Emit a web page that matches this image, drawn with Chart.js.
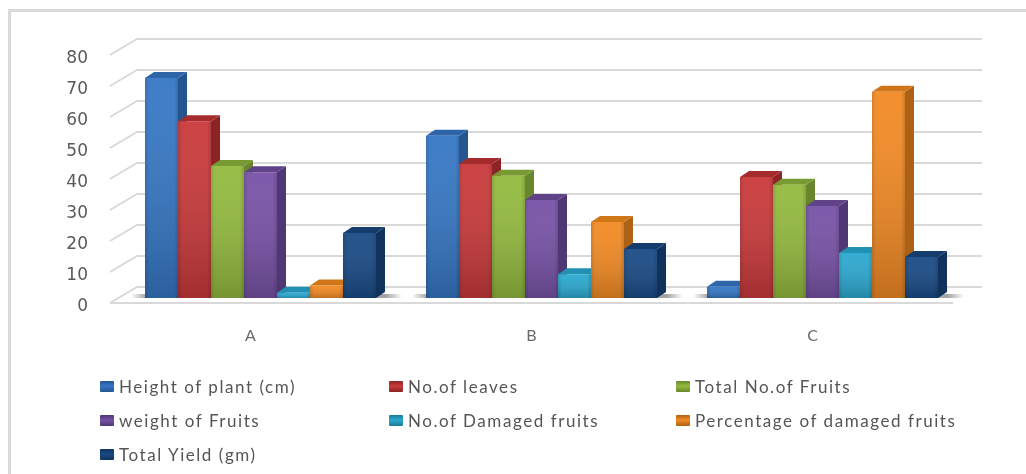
<!DOCTYPE html>
<html>
<head>
<meta charset="utf-8">
<title>Plant traits chart</title>
<script src="https://cdn.jsdelivr.net/npm/chart.js@4"></script>
<style>
  html, body { margin: 0; padding: 0; background: #fff; overflow: hidden; }
  #lienzo { position: relative; width: 1026px; height: 474px; overflow: hidden; }
  #marco { position: absolute; left: 8px; top: 9px; width: 1100px; height: 600px; border: 3px solid #dadada; box-sizing: border-box; }
  #lienzo canvas { position: absolute; left: 0; top: 0; }
  .ley { position: absolute; white-space: nowrap; font: 17px Lato, sans-serif; letter-spacing: 1.55px; color: #555; line-height: 20px; height: 20px; }
  .ley i { position: absolute; left: -19px; top: 4px; width: 14px; height: 11px; border-radius: 1px; }
</style>
</head>
<body>
<div id="lienzo">
  <div id="marco"></div>
  <canvas id="grafica" width="1026" height="474"></canvas>
  <div id="leyenda"></div>
</div>
<script>
var categorias = ['A', 'B', 'C'];
var nombres = [
  'Height of plant (cm)', 'No.of leaves', 'Total No.of Fruits', 'weight of Fruits',
  'No.of Damaged fruits', 'Percentage of damaged fruits', 'Total Yield (gm)'
];
var alturaPlanta = [71, 52.3, 3.6];
var hojas = [57, 43.2, 39];
var totalFrutos = [42.6, 39.4, 36.5];
var pesoFrutos = [40.6, 31.6, 29.7];
var frutosDanados = [1.7, 7.7, 14.5];
var pctDanados = [4, 24.5, 66.5];
var rendimiento = [21, 15.8, 13.2];
var series = [alturaPlanta, hojas, totalFrutos, pesoFrutos, frutosDanados, pctDanados, rendimiento];
var marcasY = [0, 10, 20, 30, 40, 50, 60, 70, 80];

var colores = ['#3577c4', '#c9393a', '#93ba3e', '#7752a6', '#2ba8cf', '#f28a24', '#194a85'];
var lados = ['#25558f', '#8c2426', '#68872c', '#4f3675', '#1d7a98', '#ad6115', '#10325c'];
var tapas = ['#2d65a8', '#a52c2d', '#789a33', '#5f4288', '#2290b2', '#cf7619', '#143c6d'];

// desplazamientos de la perspectiva falsa
var alzado = -4; // las etiquetas del eje van un poco más abajo que el piso
var fondoX = 27, fondoY = 16;
var barraX = 10, barraY = -5 + alzado;
var hondoX = 9, hondoY = 6;

function cuad(ctx, a, b, c, d, e, f, g, h, color) {
  ctx.fillStyle = color;
  ctx.beginPath();
  ctx.moveTo(a, b); ctx.lineTo(c, d); ctx.lineTo(e, f); ctx.lineTo(g, h);
  ctx.closePath();
  ctx.fill();
}

function sombrearBarra(ctx, b) {
  var izq = b.x - b.width / 2, alto = b.base - b.y;
  var g = ctx.createLinearGradient(0, b.y, 0, b.base);
  g.addColorStop(0, 'rgba(255,255,255,0.05)');
  g.addColorStop(1, 'rgba(0,0,0,0.2)');
  ctx.fillStyle = g;
  ctx.fillRect(izq, b.y, b.width, alto);
  var h = ctx.createLinearGradient(izq, 0, izq + b.width, 0);
  h.addColorStop(0, 'rgba(0,0,0,0.12)');
  h.addColorStop(0.12, 'rgba(0,0,0,0)');
  h.addColorStop(0.88, 'rgba(0,0,0,0)');
  h.addColorStop(1, 'rgba(0,0,0,0.14)');
  ctx.fillStyle = h;
  ctx.fillRect(izq, b.y, b.width, alto);
}

var pluginTresD = {
  id: 'tresD',
  beforeDatasetsDraw: function (chart) {
    var ctx = chart.ctx, area = chart.chartArea, y = chart.scales.y;
    // paredes y rejilla
    ctx.save();
    ctx.strokeStyle = '#d9d9d9';
    ctx.lineWidth = 2;
    marcasY.forEach(function (v) {
      var py = y.getPixelForValue(v) + alzado;
      ctx.beginPath();
      ctx.moveTo(area.left, py);
      ctx.lineTo(area.left + fondoX, py - fondoY);
      ctx.lineTo(area.right + fondoX + 2, py - fondoY);
      ctx.stroke();
    });
    var cero = y.getPixelForValue(0) + alzado;
    ctx.beginPath();
    ctx.moveTo(area.left, cero);
    ctx.lineTo(area.right, cero);
    ctx.stroke();
    // sombra en el piso
    var primero = chart.getDatasetMeta(0).data, ultimo = chart.getDatasetMeta(series.length - 1).data;
    primero.forEach(function (b, i) {
      var ini = b.x - b.width / 2 + barraX - 14;
      var fin = ultimo[i].x + ultimo[i].width / 2 + barraX + 26;
      var g = ctx.createLinearGradient(ini, 0, fin, 0);
      g.addColorStop(0, 'rgba(90,90,90,0)');
      g.addColorStop(0.06, 'rgba(90,90,90,0.6)');
      g.addColorStop(0.94, 'rgba(90,90,90,0.55)');
      g.addColorStop(1, 'rgba(90,90,90,0)');
      ctx.fillStyle = g;
      ctx.fillRect(ini, b.base + barraY - 4, fin - ini, 4);
    });
    ctx.restore();
  },
  // Chart.js pinta del último al primero; aquí hace falta al revés
  beforeDatasetDraw: function () { return false; },
  afterDatasetsDraw: function (chart) {
    var ctx = chart.ctx;
    ctx.save();
    ctx.translate(barraX, barraY);
    series.forEach(function (_, i) {
      var meta = chart.getDatasetMeta(i);
      meta.data.forEach(function (b) {
        var izq = b.x - b.width / 2, der = b.x + b.width / 2;
        cuad(ctx, der, b.y, der + hondoX, b.y - hondoY, der + hondoX, b.base - hondoY, der, b.base, lados[i]);
        cuad(ctx, izq, b.y, izq + hondoX, b.y - hondoY, der + hondoX, b.y - hondoY, der, b.y, tapas[i]);
      });
      meta.controller.draw();
      meta.data.forEach(function (b) { sombrearBarra(ctx, b); });
    });
    ctx.restore();
  }
};

var datasets = series.map(function (valores, i) {
  return {
    label: nombres[i],
    data: valores,
    backgroundColor: colores[i],
    categoryPercentage: 0.822,
    barPercentage: 1,
    borderWidth: 0
  };
});

new Chart(document.getElementById('grafica').getContext('2d'), {
  type: 'bar',
  data: { labels: categorias, datasets: datasets },
  plugins: [pluginTresD],
  options: {
    responsive: false,
    animation: false,
    layout: { padding: { left: 0, top: 59, right: 73, bottom: 0 } },
    plugins: { legend: { display: false }, tooltip: { enabled: false } },
    scales: {
      x: {
        grid: { display: false },
        border: { display: false },
        ticks: { color: '#6a6a6a', font: { family: 'Lato', size: 16 }, padding: 11 },
        afterFit: function (s) { s.height = 167; }
      },
      y: {
        min: 0,
        max: 80,
        grid: { display: false, drawTicks: false },
        border: { display: false },
        ticks: { stepSize: 10, color: '#595959', font: { family: 'DejaVu Sans', size: 17 }, padding: 22 },
        afterFit: function (s) { s.width = 110; }
      }
    }
  }
});

// leyenda propia: tres columnas, tres filas
var leyX = [119, 408, 695];
var leyY = [377, 411, 445];
var leyenda = document.getElementById('leyenda');
nombres.forEach(function (n, i) {
  var d = document.createElement('div');
  d.className = 'ley';
  d.style.left = leyX[i % 3] + 'px';
  d.style.top = leyY[Math.floor(i / 3)] + 'px';
  var m = document.createElement('i');
  m.style.background = 'linear-gradient(' + lados[i] + ', ' + colores[i] + ' 45%, ' + lados[i] + ')';
  d.appendChild(m);
  d.appendChild(document.createTextNode(n));
  leyenda.appendChild(d);
});
</script>
</body>
</html>
